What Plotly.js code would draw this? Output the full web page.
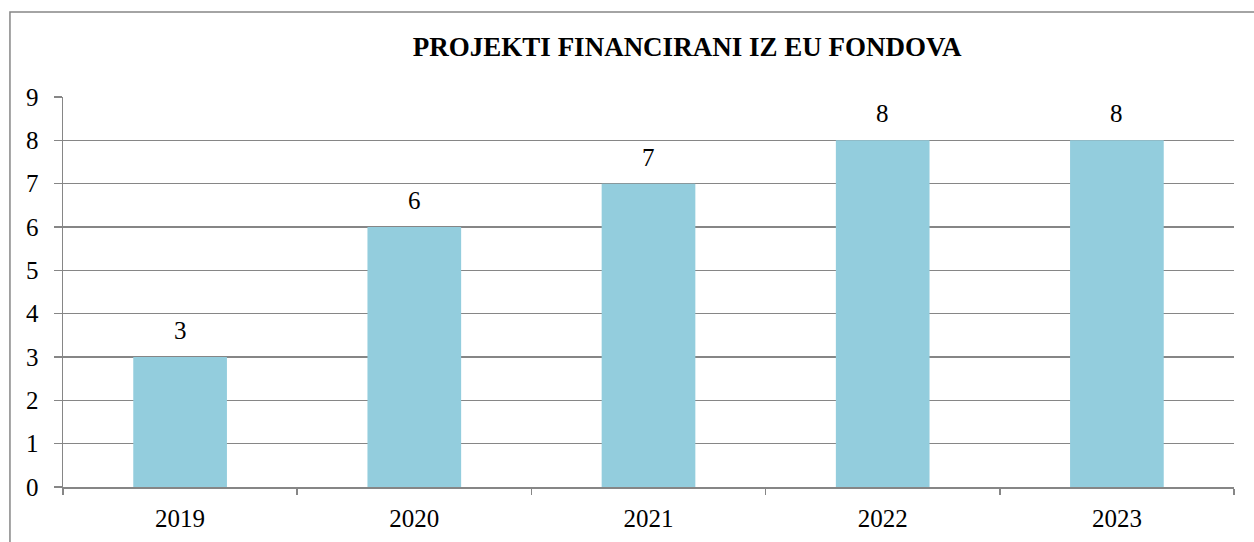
<!DOCTYPE html>
<html>
<head>
<meta charset="utf-8">
<script src="https://cdn.plot.ly/plotly-3.0.1.min.js"></script>
<style>html,body{margin:0;padding:0;background:#fff;}#chart{width:1254px;height:542px;}</style>
</head>
<body>
<div id="chart"></div>
<script>
const years = ['2019', '2020', '2021', '2022', '2023'];
const projects = [3, 6, 7, 8, 8];
const yTicks = [0, 1, 2, 3, 4, 5, 6, 7, 8, 9];
const chartTitle = 'PROJEKTI FINANCIRANI IZ EU FONDOVA';

const font = '"Times New Roman", "Liberation Serif", Times, serif';
const trace = {
  type: 'bar',
  x: years,
  y: projects,
  marker: {color: '#93CDDD'},
  width: 0.4,
  hoverinfo: 'x+y'
};
// category axis: annotations positioned by category index
const annotations = years.map((yr, i) => ({
  x: i, y: projects[i], xref: 'x', yref: 'y',
  text: String(projects[i]), showarrow: false,
  yanchor: 'bottom', yshift: 11,
  font: {family: font, size: 25, color: '#000'}
}));
const layout = {
  width: 1254, height: 542,
  margin: {l: 63, r: 20, t: 97, b: 55},
  paper_bgcolor: '#fff', plot_bgcolor: '#fff',
  showlegend: false,
  bargap: 0.6,
  font: {family: font},
  title: {text: '<b>' + chartTitle + '</b>', font: {family: font, size: 27, color: '#000'},
          x: 0.533, xanchor: 'center', y: 0.915, yanchor: 'middle', xref: 'paper'},
  xaxis: {
    type: 'category', tickson: 'boundaries', ticks: 'outside', ticklen: 6, tickcolor: '#868686', tickwidth: 1.5,
    showline: true, linecolor: '#868686', linewidth: 1.5, showgrid: false, ticklabelstandoff: 8,
    tickfont: {family: font, size: 25, color: '#000'}, fixedrange: true
  },
  yaxis: {
    range: [0, 9], tickvals: yTicks, ticks: 'outside', ticklen: 8, tickcolor: '#868686', tickwidth: 1.5,
    showline: true, linecolor: '#868686', linewidth: 1.5, showgrid: true, gridcolor: '#868686', gridwidth: 1.5,
    zeroline: false, ticklabelstandoff: 10, tickfont: {family: font, size: 25, color: '#000'}, fixedrange: true
  },
  annotations: annotations,
  shapes: [{
    type: 'rect', xref: 'paper', yref: 'paper',
    x0: -0.0453, x1: 1.2, y0: -0.4, y1: 1.218,
    line: {color: '#868686', width: 1.5}, fillcolor: 'rgba(0,0,0,0)', layer: 'below'
  }]
};
Plotly.newPlot('chart', [trace], layout, {displayModeBar: false, staticPlot: true});
</script>
</body>
</html>
